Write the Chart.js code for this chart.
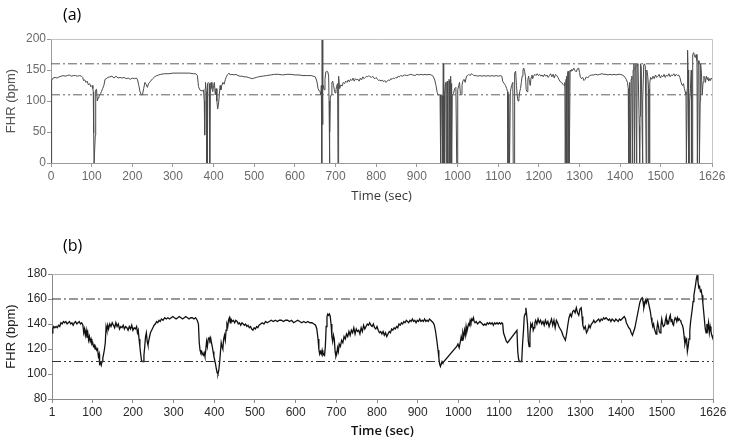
<!DOCTYPE html>
<html>
<head>
<meta charset="utf-8">
<script src="https://cdn.jsdelivr.net/npm/chart.js@4.4.1/dist/chart.umd.min.js"></script>
<style>
  html, body { margin: 0; padding: 0; background: #fff; }
  #wrap { position: relative; width: 730px; height: 441px; overflow: hidden; }
  #chartA { position: absolute; left: 0; top: 0; }
  #chartB { position: absolute; left: 0; top: 225px; }
</style>
</head>
<body>
<div id="wrap">
  <canvas id="chartA" width="730" height="205"></canvas>
  <canvas id="chartB" width="730" height="216"></canvas>
</div>
<script>
// (a) raw FHR trace, with signal-loss dropouts
const timeA = [
  0, 1, 2, 5, 10, 15, 20, 25, 30, 35,
  40, 45, 50, 55, 60, 65, 70, 75, 78, 80,
  83, 86, 89, 92, 95, 98, 101, 103, 104, 105,
  106, 107, 108, 109, 110, 112, 114, 116, 118, 120,
  122, 124, 127, 130, 133, 136, 140, 145, 150, 155,
  160, 165, 170, 175, 180, 185, 190, 195, 200, 205,
  210, 213, 216, 219, 222, 225, 228, 231, 234, 237,
  240, 245, 250, 255, 260, 265, 270, 280, 290, 300,
  310, 320, 330, 340, 350, 356, 360, 363, 366, 369,
  372, 375, 377, 378, 379, 380, 382, 383, 384, 385,
  387, 389, 390, 391, 392, 394, 396, 398, 400, 402,
  404, 406, 408, 410, 412, 414, 416, 418, 420, 423,
  426, 429, 432, 435, 438, 441, 445, 450, 455, 460,
  465, 470, 475, 480, 485, 490, 495, 500, 505, 510,
  520, 530, 540, 550, 560, 570, 580, 590, 600, 610,
  620, 630, 640, 645, 650, 654, 657, 660, 662, 664,
  665, 666, 667, 668, 669, 670, 672, 674, 676, 678,
  681, 683, 684, 685, 686, 687, 689, 691, 693, 695,
  697, 699, 701, 703, 705, 706, 707, 708, 710, 713,
  716, 719, 722, 725, 728, 731, 734, 737, 740, 743,
  746, 749, 752, 755, 758, 761, 764, 767, 770, 773,
  776, 779, 782, 785, 788, 791, 794, 797, 800, 803,
  806, 809, 812, 815, 818, 821, 824, 827, 830, 833,
  836, 839, 842, 845, 848, 851, 854, 857, 860, 865,
  870, 875, 880, 885, 890, 895, 900, 905, 910, 915,
  920, 925, 930, 935, 940, 944, 947, 950, 952, 955,
  957, 958, 959, 960, 962, 963, 964, 965, 966, 967,
  968, 970, 971, 972, 973, 974, 975, 976, 977, 979,
  980, 981, 982, 983, 984, 985, 986, 987, 990, 993,
  996, 998, 999, 1000, 1001, 1003, 1005, 1007, 1009, 1011,
  1013, 1016, 1019, 1022, 1025, 1028, 1031, 1034, 1037, 1040,
  1045, 1050, 1055, 1060, 1065, 1070, 1075, 1080, 1085, 1090,
  1095, 1100, 1105, 1109, 1111, 1115, 1118, 1121, 1123, 1124,
  1125, 1126, 1128, 1129, 1130, 1133, 1136, 1137, 1138, 1139,
  1140, 1141, 1143, 1145, 1147, 1149, 1151, 1153, 1155, 1157,
  1159, 1161, 1163, 1165, 1167, 1169, 1171, 1173, 1175, 1177,
  1179, 1181, 1183, 1185, 1187, 1190, 1193, 1196, 1199, 1202,
  1205, 1208, 1211, 1214, 1217, 1220, 1223, 1226, 1229, 1232,
  1235, 1238, 1241, 1244, 1247, 1250, 1253, 1256, 1259, 1262,
  1264, 1265, 1266, 1267, 1268, 1269, 1270, 1271, 1272, 1274,
  1275, 1276, 1277, 1279, 1281, 1283, 1286, 1289, 1292, 1295,
  1298, 1300, 1302, 1305, 1308, 1311, 1314, 1317, 1320, 1325,
  1330, 1335, 1340, 1345, 1350, 1355, 1360, 1365, 1370, 1375,
  1380, 1385, 1390, 1395, 1400, 1405, 1410, 1415, 1418, 1420,
  1421, 1422, 1423, 1424, 1425, 1426, 1427, 1429, 1430, 1431,
  1432, 1434, 1435, 1436, 1437, 1439, 1440, 1441, 1442, 1444,
  1446, 1447, 1448, 1449, 1450, 1452, 1454, 1455, 1456, 1458,
  1460, 1462, 1464, 1465, 1466, 1468, 1470, 1471, 1472, 1473,
  1475, 1478, 1481, 1484, 1487, 1490, 1493, 1496, 1499, 1502,
  1505, 1508, 1511, 1514, 1517, 1520, 1523, 1526, 1529, 1532,
  1535, 1538, 1541, 1544, 1547, 1550, 1553, 1556, 1558, 1560,
  1562, 1563, 1564, 1565, 1566, 1567, 1568, 1569, 1570, 1571,
  1573, 1575, 1576, 1577, 1578, 1579, 1581, 1583, 1585, 1587,
  1589, 1590, 1591, 1592, 1594, 1595, 1596, 1597, 1598, 1600,
  1602, 1604, 1606, 1608, 1610, 1612, 1614, 1616, 1618, 1620,
  1622, 1624, 1626
];
const fhrA = [
  0, 0, 133, 137, 138, 137, 139, 140, 141, 140,
  141, 142, 140, 141, 141, 140, 141, 140, 138, 133,
  134, 130, 132, 126, 128, 123, 125, 120, 115, 48,
  0, 0, 0, 45, 118, 119, 100, 105, 108, 110,
  112, 115, 120, 125, 135, 136, 138, 139, 140, 137,
  140, 137, 138, 137, 138, 136, 137, 135, 137, 136,
  137, 134, 125, 115, 110, 110, 120, 130, 127, 122,
  128, 132, 136, 139, 141, 142, 143, 144, 144, 145,
  145, 145, 145, 145, 144, 144, 141, 123, 118, 117,
  116, 118, 100, 45, 120, 130, 115, 0, 0, 128,
  130, 128, 0, 0, 125, 130, 120, 115, 125, 130,
  110, 120, 100, 87, 95, 110, 125, 118, 125, 130,
  127, 135, 140, 143, 145, 142, 143, 142, 143, 141,
  140, 140, 139, 139, 138, 137, 136, 137, 138, 139,
  140, 141, 142, 143, 143, 142, 143, 143, 142, 142,
  141, 141, 141, 140, 139, 132, 120, 116, 115, 110,
  125, 0, 200, 62, 120, 125, 118, 135, 147, 148,
  147, 140, 100, 0, 50, 105, 110, 130, 132, 125,
  118, 113, 118, 125, 128, 0, 0, 140, 120, 126,
  124, 130, 128, 132, 130, 134, 131, 135, 133, 137,
  132, 136, 134, 135, 132, 137, 134, 139, 136, 138,
  140, 139, 141, 139, 138, 140, 137, 136, 138, 135,
  133, 134, 132, 134, 131, 133, 130, 132, 134, 133,
  136, 135, 137, 136, 138, 137, 140, 139, 141, 140,
  142, 141, 142, 143, 142, 141, 143, 142, 143, 142,
  143, 142, 143, 142, 140, 134, 125, 114, 110, 110,
  110, 0, 0, 110, 108, 0, 0, 160, 0, 0,
  110, 128, 130, 0, 0, 130, 132, 0, 0, 135,
  132, 0, 0, 140, 128, 0, 0, 110, 112, 120,
  122, 0, 0, 0, 118, 125, 130, 112, 110, 125,
  132, 135, 130, 140, 141, 143, 141, 144, 143, 141,
  141, 140, 141, 140, 141, 140, 141, 140, 141, 140,
  141, 140, 141, 140, 132, 128, 125, 120, 115, 0,
  0, 110, 0, 0, 115, 125, 130, 0, 0, 0,
  135, 145, 148, 125, 108, 100, 104, 115, 120, 130,
  140, 150, 153, 148, 140, 118, 115, 135, 140, 130,
  125, 138, 142, 136, 140, 143, 141, 144, 141, 143,
  140, 142, 139, 143, 140, 142, 138, 141, 144, 139,
  143, 137, 143, 141, 138, 134, 131, 130, 127, 125,
  130, 0, 0, 135, 140, 0, 0, 145, 148, 0,
  0, 0, 150, 148, 151, 149, 153, 149, 147, 152,
  153, 146, 139, 136, 138, 133, 135, 139, 137, 141,
  142, 142, 143, 142, 143, 144, 143, 143, 142, 143,
  142, 143, 142, 143, 143, 142, 140, 135, 130, 120,
  0, 0, 125, 130, 0, 0, 135, 140, 0, 0,
  150, 160, 0, 0, 155, 160, 0, 40, 155, 160,
  160, 60, 0, 75, 160, 155, 60, 0, 100, 158,
  160, 155, 0, 0, 150, 140, 120, 0, 0, 130,
  138, 135, 140, 136, 142, 138, 140, 143, 137, 141,
  139, 143, 138, 142, 140, 144, 139, 142, 141, 144,
  140, 143, 141, 142, 138, 130, 125, 128, 120, 115,
  110, 0, 0, 120, 182, 150, 100, 0, 0, 100,
  120, 150, 0, 0, 160, 175, 178, 172, 170, 175,
  165, 0, 0, 165, 160, 0, 0, 100, 160, 145,
  110, 130, 140, 138, 130, 140, 135, 138, 132, 136,
  133, 137, 135
];

// (b) cleaned FHR trace
const timeB = [
  1, 3, 5, 8, 11, 14, 17, 20, 23, 26,
  29, 32, 35, 38, 41, 44, 47, 50, 53, 56,
  59, 62, 65, 68, 71, 74, 77, 79, 81, 83,
  85, 87, 89, 91, 93, 95, 97, 99, 101, 103,
  105, 107, 109, 111, 113, 115, 117, 118, 120, 122,
  124, 126, 128, 130, 132, 134, 136, 138, 140, 143,
  146, 149, 152, 155, 158, 161, 164, 167, 170, 173,
  176, 179, 182, 185, 188, 191, 194, 197, 200, 203,
  206, 209, 211, 213, 215, 217, 219, 221, 223, 225,
  227, 229, 231, 233, 235, 237, 239, 241, 243, 246,
  249, 252, 255, 258, 261, 264, 267, 270, 274, 278,
  282, 286, 290, 294, 298, 302, 306, 310, 314, 318,
  322, 326, 330, 334, 338, 342, 346, 350, 354, 358,
  361, 363, 365, 367, 369, 371, 373, 375, 377, 379,
  381, 383, 385, 387, 389, 391, 393, 395, 397, 399,
  401, 403, 405, 407, 409, 411, 413, 415, 417, 419,
  421, 423, 425, 427, 429, 431, 433, 435, 437, 439,
  441, 444, 447, 450, 453, 456, 459, 462, 465, 468,
  471, 474, 477, 480, 483, 486, 489, 492, 495, 498,
  501, 504, 507, 510, 514, 518, 522, 526, 530, 535,
  540, 545, 550, 555, 560, 565, 570, 575, 580, 585,
  590, 595, 600, 605, 610, 615, 620, 625, 630, 635,
  640, 645, 649, 652, 655, 657, 659, 661, 663, 665,
  667, 669, 671, 673, 675, 677, 679, 681, 683, 685,
  687, 689, 691, 693, 695, 697, 699, 701, 703, 705,
  707, 710, 713, 716, 719, 722, 725, 728, 731, 734,
  737, 740, 743, 746, 749, 752, 755, 758, 761, 764,
  767, 770, 773, 776, 779, 782, 785, 788, 791, 794,
  797, 800, 803, 806, 809, 812, 815, 818, 821, 824,
  827, 830, 833, 836, 839, 842, 845, 848, 851, 854,
  857, 860, 863, 866, 869, 872, 875, 878, 881, 884,
  887, 890, 893, 896, 899, 902, 905, 908, 911, 914,
  917, 920, 923, 926, 929, 932, 935, 938, 941, 944,
  947, 950, 952, 954, 956, 958, 960, 962, 996, 999,
  1002, 1005, 1007, 1009, 1011, 1013, 1015, 1017, 1019, 1021,
  1023, 1025, 1027, 1029, 1031, 1033, 1035, 1037, 1039, 1041,
  1044, 1047, 1050, 1053, 1056, 1059, 1062, 1065, 1068, 1071,
  1074, 1077, 1080, 1083, 1086, 1089, 1092, 1095, 1098, 1101,
  1104, 1107, 1109, 1111, 1114, 1118, 1121, 1144, 1146, 1148,
  1150, 1152, 1154, 1156, 1158, 1160, 1162, 1164, 1166, 1168,
  1170, 1172, 1174, 1176, 1178, 1180, 1182, 1184, 1186, 1188,
  1190, 1193, 1196, 1199, 1202, 1205, 1208, 1211, 1214, 1217,
  1220, 1223, 1226, 1229, 1232, 1235, 1238, 1241, 1244, 1247,
  1254, 1257, 1260, 1263, 1266, 1269, 1272, 1275, 1278, 1281,
  1284, 1287, 1290, 1293, 1296, 1299, 1302, 1304, 1306, 1309,
  1312, 1315, 1318, 1321, 1324, 1327, 1330, 1333, 1336, 1339,
  1342, 1345, 1348, 1351, 1354, 1357, 1360, 1363, 1366, 1369,
  1372, 1375, 1378, 1381, 1384, 1387, 1390, 1393, 1396, 1399,
  1402, 1405, 1408, 1411, 1413, 1416, 1419, 1422, 1425, 1428,
  1431, 1434, 1437, 1440, 1443, 1446, 1449, 1452, 1454, 1456,
  1458, 1460, 1462, 1464, 1466, 1468, 1470, 1472, 1474, 1476,
  1478, 1480, 1482, 1484, 1486, 1488, 1490, 1492, 1494, 1496,
  1498, 1500, 1502, 1504, 1507, 1509, 1511, 1513, 1515, 1517,
  1519, 1521, 1523, 1525, 1527, 1529, 1531, 1533, 1535, 1537,
  1539, 1541, 1543, 1545, 1547, 1549, 1551, 1553, 1555, 1557,
  1559, 1561, 1563, 1565, 1567, 1569, 1571, 1573, 1575, 1577,
  1579, 1581, 1583, 1585, 1587, 1589, 1591, 1593, 1595, 1597,
  1599, 1601, 1603, 1605, 1607, 1609, 1611, 1613, 1615, 1617,
  1619, 1621, 1623, 1625, 1626
];
const fhrB = [
  133, 136, 138, 137, 138, 137, 139, 138, 141, 140,
  142, 141, 142, 140, 141, 142, 140, 141, 139, 141,
  142, 140, 141, 142, 140, 141, 139, 133, 136, 131,
  135, 129, 133, 127, 130, 126, 128, 124, 125, 122,
  123, 120, 121, 119, 120, 114, 116, 108, 109, 107,
  110, 113, 116, 120, 125, 138, 135, 139, 136, 140,
  138, 141, 139, 137, 141, 138, 140, 136, 138, 137,
  139, 136, 138, 137, 135, 138, 136, 139, 135, 137,
  136, 138, 133, 135, 128, 122, 116, 111, 110, 110,
  115, 122, 130, 133, 126, 123, 127, 130, 133, 135,
  137, 139, 140, 142, 141, 143, 142, 144, 143, 145,
  144, 145, 144, 145, 146, 145, 144, 145, 146, 145,
  144, 145, 146, 145, 144, 145, 145, 144, 145, 143,
  140, 125, 119, 117, 118, 116, 115, 117, 114, 119,
  126, 122, 128, 129, 127, 129, 125, 122, 118, 114,
  111, 108, 104, 101, 100, 103, 109, 117, 125, 122,
  120, 128, 131, 127, 135, 140, 138, 143, 145, 141,
  144, 142, 143, 141, 143, 142, 140, 141, 139, 141,
  140, 139, 140, 138, 139, 137, 138, 136, 135, 137,
  136, 138, 137, 139, 140, 141, 140, 142, 141, 142,
  143, 142, 143, 142, 143, 143, 142, 143, 143, 142,
  143, 141, 142, 143, 142, 141, 142, 141, 142, 141,
  141, 140, 139, 136, 128, 120, 116, 118, 116, 119,
  115, 116, 115, 122, 138, 146, 148, 147, 148, 146,
  140, 130, 126, 131, 128, 118, 114, 116, 121, 118,
  124, 122, 127, 125, 130, 128, 132, 130, 134, 131,
  135, 133, 137, 132, 136, 134, 135, 132, 137, 134,
  139, 136, 138, 140, 139, 141, 139, 138, 140, 137,
  136, 138, 135, 133, 134, 132, 134, 131, 133, 130,
  132, 134, 133, 136, 135, 137, 136, 138, 137, 140,
  139, 141, 140, 142, 141, 143, 142, 141, 143, 142,
  144, 142, 143, 141, 143, 142, 144, 142, 143, 142,
  144, 142, 143, 142, 144, 143, 142, 141, 139, 134,
  127, 119, 113, 108, 106, 108, 110, 109, 122, 124,
  121, 126, 130, 127, 133, 130, 135, 131, 138, 134,
  137, 140, 139, 143, 141, 144, 143, 145, 142, 141,
  142, 140, 141, 142, 141, 140, 139, 140, 139, 141,
  140, 141, 140, 141, 139, 141, 140, 141, 140, 141,
  140, 141, 140, 133, 130, 126, 125, 135, 118, 112,
  110, 110, 110, 112, 125, 134, 146, 148, 153, 147,
  140, 126, 122, 132, 140, 138, 140, 135, 137, 141,
  143, 140, 144, 141, 143, 140, 142, 139, 143, 140,
  142, 138, 141, 144, 139, 143, 137, 143, 141, 138,
  134, 131, 129, 127, 132, 139, 145, 148, 146, 150,
  151, 149, 153, 149, 147, 152, 153, 146, 139, 136,
  138, 133, 135, 139, 137, 140, 141, 143, 141, 142,
  143, 144, 142, 144, 143, 145, 144, 145, 144, 143,
  144, 142, 144, 143, 142, 144, 143, 142, 144, 143,
  144, 145, 146, 144, 141, 139, 137, 136, 133, 131,
  134, 137, 142, 147, 152, 157, 160, 161, 158, 153,
  156, 159, 157, 160, 159, 156, 153, 150, 145, 141,
  138, 140, 136, 134, 132, 136, 141, 138, 134, 133,
  139, 144, 140, 138, 139, 143, 146, 140, 142, 141,
  145, 147, 142, 144, 140, 139, 143, 145, 144, 142,
  145, 143, 144, 143, 142, 140, 139, 136, 130, 124,
  127, 128, 118, 122, 128, 135, 142, 147, 152, 158,
  163, 167, 171, 176, 179, 174, 169, 170, 166, 167,
  163, 157, 150, 143, 136, 133, 140, 136, 141, 133,
  138, 134, 131, 129, 131
];

const xTicksA = [0, 100, 200, 300, 400, 500, 600, 700, 800, 900, 1000, 1100, 1200, 1300, 1400, 1500, 1626];
const xTicksB = [1, 100, 200, 300, 400, 500, 600, 700, 800, 900, 1000, 1100, 1200, 1300, 1400, 1500, 1626];
const upperLimit = 160;
const lowerLimit = 110;

const toPoints = (times, values) => times.map((t, i) => ({ x: t, y: values[i] }));
const flat = (x0, x1, y) => [{ x: x0, y }, { x: x1, y }];

// top/right edge of the plot box + the (a)/(b) panel label
const framePlugin = {
  id: "frame",
  afterDraw(chart, args, o) {
    const { ctx, chartArea: a } = chart;
    ctx.save();
    ctx.strokeStyle = o.color;
    ctx.lineWidth = 1;
    ctx.beginPath();
    ctx.moveTo(Math.round(a.left), Math.round(a.top) + 0.5);
    ctx.lineTo(Math.round(a.right) + 0.5, Math.round(a.top) + 0.5);
    ctx.lineTo(Math.round(a.right) + 0.5, Math.round(a.bottom));
    ctx.stroke();
    ctx.fillStyle = "#000";
    ctx.font = "16px 'Open Sans'";
    ctx.textBaseline = "middle";
    ctx.fillText(o.label, o.x, o.y);
    ctx.restore();
  }
};

function makeChart(id, s) {
  return new Chart(document.getElementById(id), {
    type: "line",
    data: {
      datasets: [
        {
          data: flat(s.xMin, 1626, upperLimit),
          borderColor: s.limitColor,
          borderWidth: 1,
          borderDash: [9, 3, 2, 3],
          pointRadius: 0
        },
        {
          data: flat(s.xMin, 1626, lowerLimit),
          borderColor: s.limitColor,
          borderWidth: 1,
          borderDash: [9, 3, 2, 3, 2, 3],
          pointRadius: 0
        },
        {
          data: s.points,
          borderColor: s.lineColor,
          borderWidth: s.lineWidth,
          pointRadius: 0,
          tension: 0
        }
      ]
    },
    options: {
      responsive: false,
      animation: false,
      devicePixelRatio: 1,
      events: [],
      layout: { padding: { left: 0, top: s.top, right: s.right, bottom: 0 } },
      plugins: {
        legend: { display: false },
        tooltip: { enabled: false },
        frame: { color: s.boxColor, label: s.label, x: 63, y: s.labelY }
      },
      scales: {
        x: {
          type: "linear",
          min: s.xMin,
          max: 1626,
          afterBuildTicks: sc => { sc.ticks = s.xTicks.map(v => ({ value: v })); },
          afterFit: sc => { sc.height = s.xAxisH; },
          ticks: {
            autoSkip: false,
            maxRotation: 0,
            padding: 2,
            color: s.tickColor,
            font: { family: "'Liberation Sans', Arial", size: 12 },
            callback: v => String(v)
          },
          grid: { drawOnChartArea: false, tickLength: 4, color: s.axisColor },
          border: { color: s.axisColor },
          title: {
            display: true,
            text: "Time (sec)",
            color: s.titleColor,
            padding: { top: 0, bottom: s.xTitlePad },
            font: { family: "'Open Sans'", size: 13, weight: s.xTitleWeight }
          }
        },
        y: {
          min: s.yMin,
          max: s.yMax,
          afterFit: sc => { sc.width = s.yAxisW; },
          ticks: {
            stepSize: s.yStep,
            padding: 1,
            color: s.tickColor,
            font: { family: "'Liberation Sans', Arial", size: 12 },
            callback: v => String(v)
          },
          grid: { drawOnChartArea: false, tickLength: 4, color: s.axisColor },
          border: { color: s.axisColor },
          title: {
            display: true,
            text: "FHR (bpm)",
            color: s.yTitleColor,
            padding: { top: 4, bottom: 0 },
            font: { family: "'Liberation Sans', Arial", size: 13 }
          }
        }
      }
    },
    plugins: [framePlugin]
  });
}

makeChart("chartA", {
  label: "(a)", labelY: 15,
  points: toPoints(timeA, fhrA),
  xMin: 0, xTicks: xTicksA,
  yMin: 0, yMax: 200, yStep: 50,
  top: 39, right: 18, xAxisH: 42, yAxisW: 51, xTitlePad: 1,
  lineColor: "#4a4a4a", lineWidth: 1, limitColor: "#606060",
  boxColor: "#c4c4c4", axisColor: "#9a9a9a",
  tickColor: "#6a6a6a", titleColor: "#3a3a3a", yTitleColor: "#555", xTitleWeight: "normal"
});

makeChart("chartB", {
  label: "(b)", labelY: 21,
  points: toPoints(timeB, fhrB),
  xMin: 1, xTicks: xTicksB,
  yMin: 80, yMax: 180, yStep: 20,
  top: 49, right: 17, xAxisH: 42, yAxisW: 52, xTitlePad: 2,
  lineColor: "#111", lineWidth: 1.3, limitColor: "#333",
  boxColor: "#b0b0b0", axisColor: "#8a8a8a",
  tickColor: "#2a2a2a", titleColor: "#111", yTitleColor: "#222", xTitleWeight: "600"
});
</script>
</body>
</html>
